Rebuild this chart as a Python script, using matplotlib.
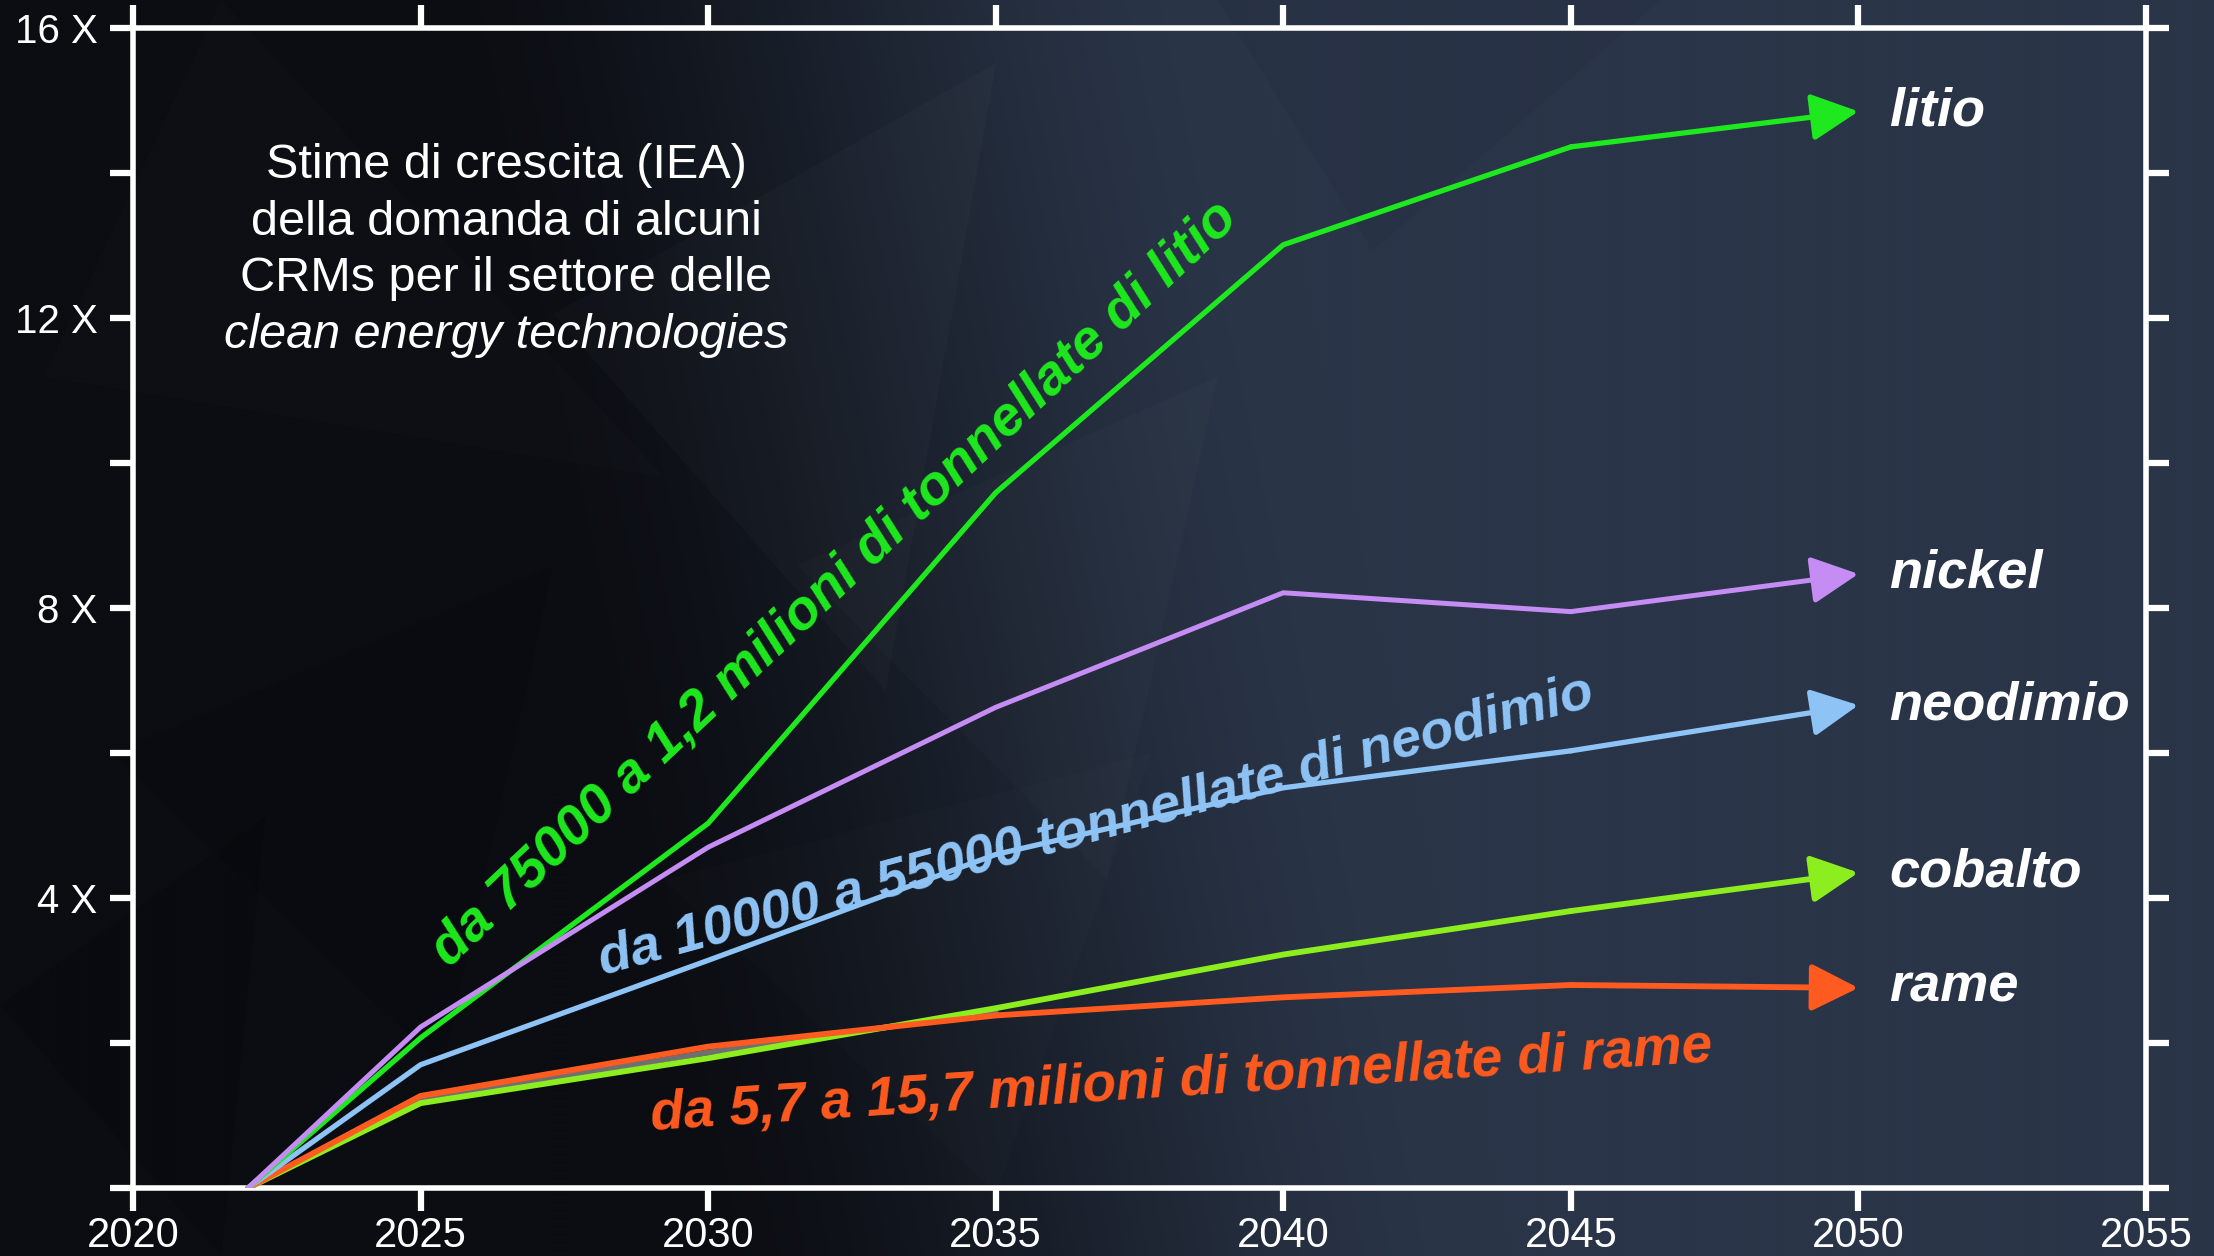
import numpy as np
import matplotlib
matplotlib.use("Agg")
import matplotlib.pyplot as plt
from matplotlib.patches import Polygon

plt.rcParams["font.family"] = ["Liberation Sans", "DejaVu Sans"]

# ---------------- data ----------------
years = [2022, 2025, 2030, 2035, 2040, 2045, 2050]
litio = [0, 2.07, 5.03, 9.59, 13.01, 14.36, 14.85]
nickel = [0, 2.22, 4.70, 6.63, 8.21, 7.95, 8.47]
neodimio = [0, 1.70, 3.14, 4.60, 5.52, 6.03, 6.66]
cobalto = [0, 1.17, 1.79, 2.48, 3.22, 3.82, 4.35]
rame = [0, 1.27, 1.95, 2.38, 2.63, 2.80, 2.76]
grafite_years = [2022, 2025, 2030, 2035]
grafite = [0, 1.22, 1.87, 2.43]

series_names = ["cobalto", "rame", "neodimio", "litio", "nickel"]
series_values = [cobalto, rame, neodimio, litio, nickel]
series_colors = ["#8cee1e", "#ff5a1f", "#8ec3f5", "#1ee81e", "#c58cf3"]
series_widths = [4.2, 4.2, 3.8, 3.8, 3.6]

x_ticks = [2020, 2025, 2030, 2035, 2040, 2045, 2050, 2055]
y_ticks = [0, 2, 4, 6, 8, 10, 12, 14, 16]
y_tick_labels = ["", "", "4 X", "", "8 X", "", "12 X", "", "16 X"]

title_lines = ["Stime di crescita (IEA)", "della domanda di alcuni",
               "CRMs per il settore delle", "clean energy technologies"]

notes = [
    ("da 75000 a 1,2 milioni di tonnellate di litio", "#1ee81e", 2025.50, 3.04, 43.4, 40),
    ("da 10000 a 55000 tonnellate di neodimio", "#8ec3f5", 2028.17, 2.95, 15.2, 39),
    ("da 5,7 a 15,7 milioni di tonnellate di rame", "#ff5a1f", 2029.02, 0.80, 3.7, 39.5),
]

# ---------------- figure & background ----------------
fig = plt.figure(figsize=(22.14, 12.56), dpi=100)

bg = fig.add_axes([0, 0, 1, 1], zorder=0)
bg.set_xlim(0, 1)
bg.set_ylim(0, 1)
bg.axis("off")
ny, nx = 314, 554
u = np.linspace(0, 1, nx)[None, :]
v = np.linspace(0, 1, ny)[:, None]
s = np.clip((u - (0.18 + 0.12 * v)) / 0.38, 0, 1)
s = s * s * (3 - 2 * s)
dark = np.array([11, 13, 18]) / 255
light = np.array([42, 53, 72]) / 255
img = dark + (light - dark) * s[..., None]
bg.imshow(img, extent=[0, 1, 0, 1], aspect="auto", interpolation="bicubic")

# faint faceted shapes in the backdrop
facets = [
    ([(0.10, 1.0), (0.30, 0.62), (0.02, 0.70)], "white", 0.012),
    ([(0.25, 0.75), (0.45, 0.95), (0.40, 0.45)], "white", 0.018),
    ([(0.36, 0.55), (0.55, 0.70), (0.50, 0.30)], "white", 0.015),
    ([(0.05, 0.40), (0.25, 0.55), (0.20, 0.15)], "black", 0.08),
    ([(0.30, 0.30), (0.52, 0.40), (0.45, 0.05)], "white", 0.012),
    ([(0.55, 1.0), (0.75, 1.0), (0.62, 0.80)], "black", 0.04),
    ([(0.00, 0.20), (0.12, 0.35), (0.10, 0.00)], "black", 0.10),
]
for pts, col, a in facets:
    bg.add_patch(Polygon(pts, closed=True, facecolor=col, edgecolor="none", alpha=a))

# ---------------- main axes ----------------
ax = fig.add_axes([0.06007, 0.05414, 0.90921, 0.92357], zorder=1)
ax.set_facecolor("none")
ax.set_xlim(2020, 2055)
ax.set_ylim(0, 16)

for sp in ax.spines.values():
    sp.set_color("white")
    sp.set_linewidth(4)

ax.set_xticks(x_ticks)
ax.set_xticklabels([str(t) for t in x_ticks])
ax.set_yticks(y_ticks)
ax.set_yticklabels(y_tick_labels)
ax.tick_params(axis="both", which="both", direction="out", length=16.5, width=4.5,
               color="white", labelcolor="white", top=True, right=True)
ax.tick_params(axis="x", labelsize=30, pad=3.5)
ax.tick_params(axis="y", labelsize=29, pad=9)

# hidden grey series peeking between copper and cobalt
ax.plot(grafite_years, grafite, color="#6f6f6f", lw=4.0, zorder=2,
        solid_capstyle="round")

for name, vals, col, lw in zip(series_names, series_values, series_colors, series_widths):
    ax.plot(years[:-1], vals[:-1], color=col, lw=lw, zorder=3,
            solid_capstyle="round", solid_joinstyle="round")
    ax.annotate("", xy=(years[-1], vals[-1]), xytext=(years[-2], vals[-2]),
                arrowprops=dict(arrowstyle="-|>,head_length=2.9,head_width=1.45",
                                mutation_scale=10, color=col, lw=lw,
                                shrinkA=0, shrinkB=0),
                zorder=3)
    ax.annotate(name, xy=(years[-1], vals[-1]), xytext=(22, 0),
                textcoords="offset points", ha="left", va="center",
                fontsize=39, fontweight="bold", fontstyle="italic",
                color="white", zorder=4)

# notes written along the curves
for text, col, x0, y0, rot, fs in notes:
    ax.text(x0, y0, text, color=col, fontsize=fs, fontweight="bold",
            fontstyle="italic", rotation=rot, rotation_mode="anchor",
            ha="left", va="baseline", zorder=4)

# description block
title_y = [13.93, 13.15, 12.37, 11.59]
for i, (line, yb) in enumerate(zip(title_lines, title_y)):
    ax.text(2026.49, yb, line, color="white", fontsize=35, ha="center",
            va="baseline", fontstyle="italic" if i == 3 else "normal", zorder=4)

fig.savefig("out.png", dpi=100)
